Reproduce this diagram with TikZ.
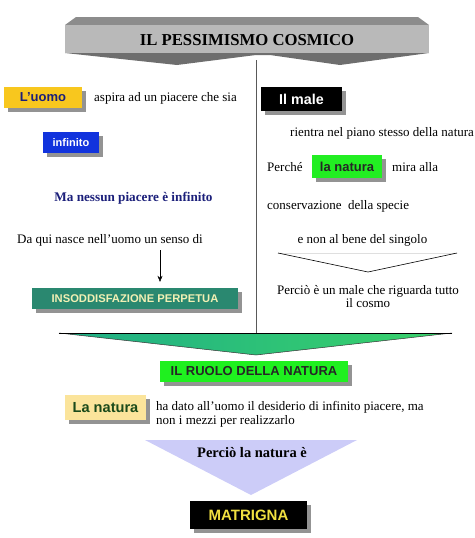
\documentclass[tikz,border=0pt]{standalone}
\usepackage{fontspec}
\setmainfont{Liberation Serif}
\setsansfont{Liberation Sans}
\usetikzlibrary{shadows,arrows.meta}
\definecolor{bannerA}{HTML}{B9B9B9}
\definecolor{bannerTop}{HTML}{8C8C8C}
\definecolor{bannerBot}{HTML}{6E6E6E}
\definecolor{yel}{HTML}{F8C71E}
\definecolor{navy}{HTML}{1B1F7A}
\definecolor{blu}{HTML}{1133DD}
\definecolor{grn}{HTML}{22EE22}
\definecolor{teal}{HTML}{2A8870}
\definecolor{paleyel}{HTML}{F2F0B4}
\definecolor{cream}{HTML}{FBE49B}
\definecolor{dkgreen}{HTML}{1A4A1A}
\definecolor{lav}{HTML}{CCCCF8}
\definecolor{gold}{HTML}{F0E040}
\definecolor{triL}{HTML}{1FAE86}
\definecolor{triR}{HTML}{3AD36A}
\tikzset{
  boxed/.style={inner sep=0pt, font=\sffamily\bfseries,
    drop shadow={shadow xshift=3.5pt, shadow yshift=-3.5pt, fill=gray!85, opacity=1}},
  txt/.style={inner sep=0pt, font=\fontsize{13}{14}\selectfont},
}
\begin{document}
\begin{tikzpicture}[x=1pt,y=-1pt]
\useasboundingbox (0,0) rectangle (474,538);
% title banner
\fill[bannerTop] (65,25) -- (76,17) -- (418,17) -- (429,25) -- cycle;
\fill[bannerBot] (65,53) -- (177,65) -- (256,55) -- (270,55) -- (340,65) -- (429,53) -- cycle;
\fill[bannerA] (65,25) rectangle (429,53);
\node[inner sep=0pt, font=\fontsize{16.7}{18}\selectfont\bfseries] (title) at (247,40) {IL PESSIMISMO COSMICO};
% vertical divider
\coordinate (divtop) at (256,60);
\coordinate (divbot) at (256,333);
\draw[gray!70!black, line width=0.8pt] (divtop) -- (divbot);
% left column
\node[boxed, fill=yel, text=navy, minimum width=78pt, minimum height=21pt, font=\sffamily\bfseries\fontsize{13}{14}\selectfont] (luomo) at (43,97.5) {L’uomo};
\node[txt, anchor=west] (aspira) at (94,98) {aspira ad un piacere che sia};
\node[boxed, fill=blu, text=white, minimum width=56pt, minimum height=21pt, font=\sffamily\bfseries\fontsize{11}{12}\selectfont] (infinito) at (71,142.5) {infinito};
\node[txt, text=navy, font=\fontsize{13.2}{14}\selectfont\bfseries] (nessun) at (133.5,198) {Ma nessun piacere è infinito};
\node[txt, anchor=west] (daqui) at (17,240) {Da qui nasce nell’uomo un senso di};
\node[boxed, fill=teal, text=paleyel, minimum width=206pt, minimum height=21pt, font=\sffamily\bfseries\fontsize{11.2}{12}\selectfont] (insodd) at (135,298.5) {INSODDISFAZIONE PERPETUA};
\coordinate (arrstart) at (160,250);
\draw[-{Stealth[length=6pt,width=5pt]}, shorten >=6pt] (arrstart) -- (arrstart |- insodd.north);
% right column
\node[boxed, fill=black, text=white, minimum width=81pt, minimum height=24pt, font=\sffamily\bfseries\fontsize{14.3}{15}\selectfont] (male) at (301.5,99) {Il male};
\node[txt, anchor=west] (rientra) at (290,133) {rientra nel piano stesso della natura};
\node[txt, anchor=west] (perche) at (267,167) {Perché};
\node[boxed, fill=grn, text=black!85, minimum width=70pt, minimum height=23pt, font=\sffamily\bfseries\fontsize{13}{14}\selectfont] (natura1) at (347,166.5) {la natura};
\node[txt, anchor=west] (mira) at (392,167) {mira alla};
\node[txt, anchor=west] (conserv) at (267,206) {conservazione\ \ della specie};
\node[txt] (bene) at (362.5,240) {e non al bene del singolo};
\coordinate (vL) at (278,253);
\coordinate (vM) at (368,272);
\coordinate (vR) at (457,253);
\draw[gray!25] (vL) -- (vR);
\draw[black, line width=0.6pt] (vL) -- (vM) -- (vR);
\node[txt, align=center, font=\fontsize{13}{13}\selectfont] (percio1) at (368,296.5) {Perciò è un male che riguarda tutto\\il cosmo};
% green triangle
\coordinate (gL) at (59,333);
\coordinate (gR) at (452,333);
\coordinate (gA) at (256,355);
\shade[left color=triL, right color=triR] (gL) -- (gR) -- (gA) -- cycle;
\draw[black!80, line width=0.5pt] (gL) -- (gA) -- (gR);
\draw[black, line width=1pt] (gL) -- (gR);
% bottom part
\node[boxed, fill=grn!90!green, text=black!85, minimum width=188pt, minimum height=21pt, font=\sffamily\bfseries\fontsize{13}{14}\selectfont] (ruolo) at (254,371.5) {IL RUOLO DELLA NATURA};
\node[boxed, fill=cream, text=dkgreen, minimum width=81pt, minimum height=25pt, font=\sffamily\bfseries\fontsize{14.6}{16}\selectfont] (natura2) at (105.5,407.5) {La natura};
\node[txt, anchor=north west, align=left, font=\fontsize{13}{14}\selectfont] (hadato) at (156,401) {ha dato all’uomo il desiderio di infinito piacere, ma\\non i mezzi per realizzarlo};
\coordinate (lL) at (145,440);
\coordinate (lR) at (357,440);
\coordinate (lA) at (251,495);
\fill[lav] (lL) -- (lR) -- (lA) -- cycle;
\node[txt, font=\fontsize{14.5}{16}\selectfont\bfseries] (percio2) at (252,453) {Perciò la natura è};
\node[boxed, fill=black, text=gold, minimum width=117pt, minimum height=28pt, font=\sffamily\bfseries\fontsize{15}{16}\selectfont] (matrigna) at (248.5,515) {MATRIGNA};
\end{tikzpicture}
\end{document}
